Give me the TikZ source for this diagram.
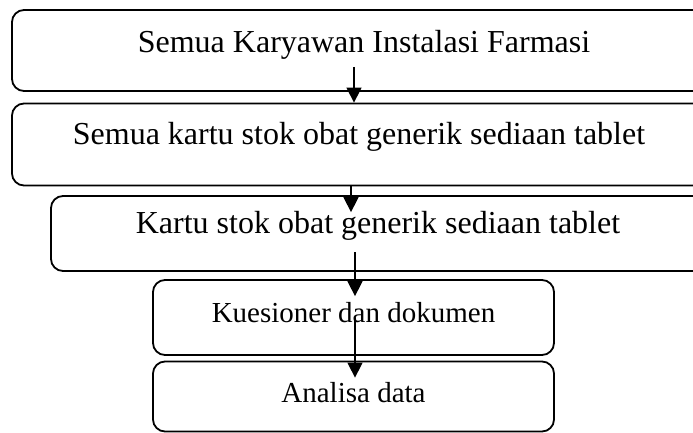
\documentclass[tikz,border=0pt]{standalone}
\usepackage{fontspec}
\setmainfont{Liberation Serif}
\usetikzlibrary{arrows.meta}
\begin{document}
\begin{tikzpicture}[x=1pt,y=-1pt,
  box/.style={draw, line width=1.8pt, rounded corners=12pt, inner sep=0pt},
  bigtxt/.style={font=\fontsize{32}{36}\selectfont, anchor=base, inner sep=0pt},
  smalltxt/.style={font=\fontsize{29}{33}\selectfont, anchor=base, inner sep=0pt},
  arr/.style={line width=1.5pt, -{Triangle[width=15pt,length=15pt]}}]
\useasboundingbox (0,0) rectangle (693,433);
\clip (0,0) rectangle (693,433);
% boxes
\node[box, minimum width=708pt, minimum height=81pt] (b1) at (366,50.5) {};
\node[box, minimum width=708pt, minimum height=82pt] (b2) at (366,144.5) {};
\node[box, minimum width=669pt, minimum height=75pt] (b3) at (385.5,233.5) {};
\node[box, minimum width=401pt, minimum height=75pt] (b4) at (353.5,317.5) {};
\node[box, minimum width=401pt, minimum height=70pt] (b5) at (353.5,396.5) {};
% texts
\node[bigtxt] (t1) at (364,53) {Semua Karyawan Instalasi Farmasi};
\node[bigtxt] (t2) at (359,145) {Semua kartu stok obat generik sediaan tablet};
\node[bigtxt] (t3) at (378,233) {Kartu stok obat generik sediaan tablet};
\node[smalltxt] (t4) at (353.5,322) {Kuesioner dan dokumen};
\node[smalltxt] (t5) at (353.5,402) {Analisa data};
% arrow start points
\coordinate (a1) at (354,67);
\coordinate (a2) at (351,186);
\coordinate (a3) at (355,252);
\coordinate (a4) at (355,318);
\draw[arr] (a1) -- (a1 |- b2.north);
\draw[arr] (a2) -- (a2 |- b3.north) -- ++(0,17);
\draw[arr] (a3) -- (a3 |- b4.north) -- ++(0,17);
\draw[arr] (a4) -- (a4 |- b5.north) -- ++(0,17);
\end{tikzpicture}
\end{document}
